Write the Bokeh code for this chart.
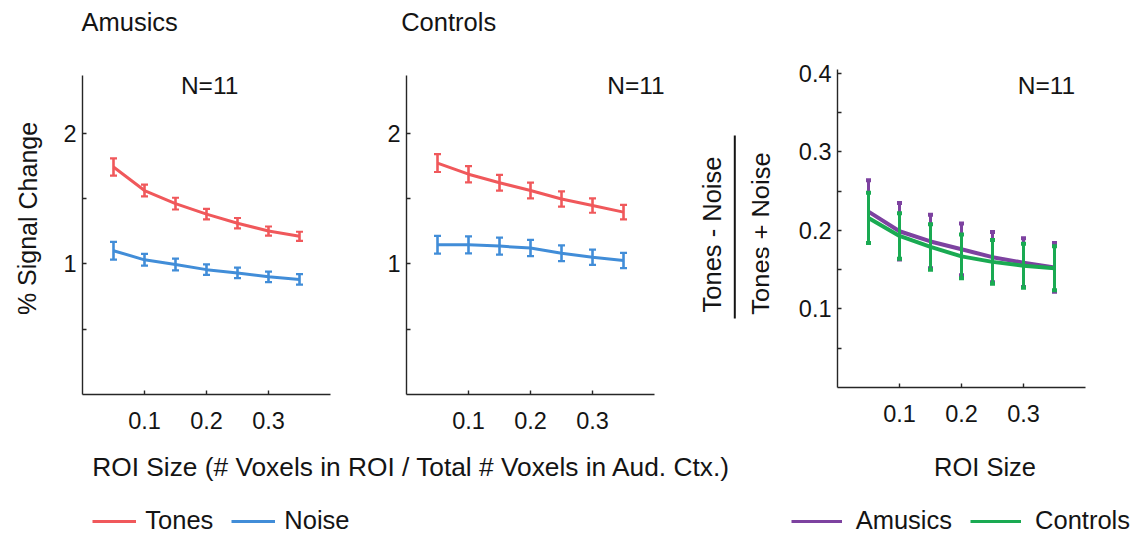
from bokeh.plotting import figure
from bokeh.models import (ColumnDataSource, Range1d, FixedTicker, Label, Legend,
                          LegendItem, Arrow)
from bokeh.layouts import row, column
from bokeh.embed import file_html
from bokeh.resources import INLINE

# ---------------- data ----------------
roi_size = [0.05, 0.10, 0.15, 0.20, 0.25, 0.30, 0.35]
x_ticks = [0.1, 0.2, 0.3]

amusics_tones = [1.74, 1.56, 1.46, 1.38, 1.31, 1.25, 1.21]
amusics_tones_err = [0.066, 0.045, 0.045, 0.04, 0.04, 0.035, 0.035]
amusics_noise = [1.10, 1.03, 0.995, 0.955, 0.93, 0.90, 0.88]
amusics_noise_err = [0.068, 0.045, 0.045, 0.04, 0.04, 0.04, 0.04]

controls_tones = [1.77, 1.685, 1.62, 1.56, 1.495, 1.445, 1.395]
controls_tones_err = [0.068, 0.062, 0.06, 0.06, 0.058, 0.055, 0.055]
controls_noise = [1.145, 1.145, 1.135, 1.12, 1.08, 1.05, 1.025]
controls_noise_err = [0.068, 0.065, 0.065, 0.062, 0.06, 0.058, 0.058]

ratio_amusics = [0.224, 0.199, 0.186, 0.176, 0.166, 0.159, 0.153]
ratio_amusics_err = [0.040, 0.036, 0.034, 0.033, 0.032, 0.031, 0.031]
ratio_controls = [0.216, 0.193, 0.179, 0.167, 0.160, 0.155, 0.152]
ratio_controls_err = [0.032, 0.029, 0.029, 0.028, 0.028, 0.028, 0.028]

signal_ticks = [1, 2]
signal_minor = [0.5, 1.5]
ratio_ticks = [0.1, 0.2, 0.3, 0.4]
ratio_minor = [0.05, 0.15, 0.25, 0.35]

# ---------------- style ----------------
FONT = "Liberation Sans"
AX = "#262626"
TXT = "#141414"
RED = "#F0585B"
BLUE = "#418DD8"
PURPLE = "#7D42A0"
GREEN = "#1AAA52"

ROW_H = 390
TOP_B = 25
BOT_B = 46


def clean(p):
    p.xgrid.visible = False
    p.ygrid.visible = False
    p.outline_line_color = None
    p.background_fill_color = "white"
    p.border_fill_color = "white"


def style_axes(p, yticks, yminor):
    p.xaxis.ticker = FixedTicker(ticks=x_ticks, minor_ticks=[])
    p.yaxis.ticker = FixedTicker(ticks=yticks, minor_ticks=yminor)
    for ax in (p.xaxis[0], p.yaxis[0]):
        ax.axis_line_color = AX
        ax.axis_line_width = 1.4
        ax.major_tick_line_color = AX
        ax.major_tick_line_width = 1.4
        ax.minor_tick_line_color = AX
        ax.minor_tick_line_width = 1.4
        ax.major_tick_in = 4
        ax.major_tick_out = 0
        ax.minor_tick_in = 4
        ax.minor_tick_out = 0
        ax.major_label_text_font = FONT
        ax.major_label_text_font_size = "23.5px"
        ax.major_label_text_color = TXT
    p.xaxis.major_label_standoff = 17
    p.yaxis.major_label_standoff = 6
    clean(p)


def add_label(p, x, y, text, size="25.5px", align="center", angle=0.0):
    p.add_layout(Label(x=x, y=y, text=text, text_font=FONT, text_font_size=size,
                       text_align=align, text_baseline="middle", angle=angle,
                       text_color=TXT))


def series(p, y, err, color, lw, elw, cap, capw):
    src = ColumnDataSource(dict(
        x=roi_size, y=y,
        lo=[v - e for v, e in zip(y, err)],
        hi=[v + e for v, e in zip(y, err)]))
    p.line("x", "y", source=src, line_color=color, line_width=lw)
    p.segment("x", "lo", "x", "hi", source=src, line_color=color, line_width=elw)
    p.scatter("x", "lo", source=src, marker="dash", size=cap, line_color=color,
              line_width=capw)
    p.scatter("x", "hi", source=src, marker="dash", size=cap, line_color=color,
              line_width=capw)


def make_signal_panel(width, bl, br, xmax, tones, tones_err, noise, noise_err):
    p = figure(width=width, height=ROW_H, x_range=Range1d(0, xmax),
               y_range=Range1d(0, 2.44), min_border_left=bl, min_border_right=br,
               min_border_top=TOP_B, min_border_bottom=BOT_B,
               toolbar_location=None, output_backend="svg")
    style_axes(p, signal_ticks, signal_minor)
    p.xaxis.bounds = (0, 0.4)
    series(p, tones, tones_err, RED, 3, 2.6, 7, 2.2)
    series(p, noise, noise_err, BLUE, 3, 2.6, 7, 2.2)
    return p


def text_panel(width, height, x0, x1, ytop, ybot, top_b=0, bot_b=0):
    p = figure(width=width, height=height, x_range=Range1d(x0, x1),
               y_range=Range1d(ybot, ytop), min_border_left=0, min_border_right=0,
               min_border_top=top_b, min_border_bottom=bot_b,
               x_axis_location=None, y_axis_location=None,
               toolbar_location=None, output_backend="svg")
    clean(p)
    return p


# ---------------- top strip: group titles ----------------
fa = text_panel(1136, 50, 0, 1136, 0, 50)
add_label(fa, 81, 21, "Amusics", align="left")
add_label(fa, 400.7, 21, "Controls", align="left")

# ---------------- y label strip ----------------
fL = text_panel(46, ROW_H, 0, 46, 75, 394, TOP_B, BOT_B)
add_label(fL, 27, 218, "% Signal Change", size="25px", angle=1.5707963)

# ---------------- panel 1: Amusics ----------------
f1 = make_signal_panel(324, 36, 40, 0.4, amusics_tones, amusics_tones_err,
                       amusics_noise, amusics_noise_err)
add_label(f1, 0.205, 2.363, "N=11", size="24.5px")

# ---------------- panel 2: Controls ----------------
f2 = make_signal_panel(322, 36, 12, 0.4419, controls_tones, controls_tones_err,
                       controls_noise, controls_noise_err)
add_label(f2, 0.370, 2.363, "N=11", size="24.5px")

# ---------------- fraction y label strip ----------------
fR = text_panel(98, ROW_H, 692, 790, 75, 394, TOP_B, BOT_B)
add_label(fR, 711.7, 234, "Tones - Noise", angle=1.5707963)
add_label(fR, 760, 233, "Tones + Noise", angle=1.5707963)
fR.add_layout(Arrow(start=None, end=None, x_start=734.3, y_start=135,
                    x_end=734.3, y_end=318, line_color=TXT, line_width=2))

# ---------------- panel 3: ratio ----------------
f3 = figure(width=346, height=ROW_H, x_range=Range1d(0, 0.4),
            y_range=Range1d(0, 0.405), min_border_left=47, min_border_right=51,
            min_border_top=19, min_border_bottom=53, toolbar_location=None,
            output_backend="svg")
style_axes(f3, ratio_ticks, ratio_minor)
series(f3, ratio_amusics, ratio_amusics_err, PURPLE, 4, 3, 5, 4)
series(f3, ratio_controls, ratio_controls_err, GREEN, 4, 3, 5, 4)
add_label(f3, 0.337, 0.3846, "N=11", size="24.5px")

# ---------------- bottom strip: axis titles + legends ----------------
fb = text_panel(1136, 93, 0, 1136, 0, 93)
add_label(fb, 91.7, 26.7, "ROI Size (# Voxels in ROI / Total # Voxels in Aud. Ctx.)",
          size="26.3px", align="left")
add_label(fb, 984.5, 26.0, "ROI Size")

# legend proxies: the real series, drawn against off-screen ranges
fb.extra_x_ranges = {"proxy": Range1d(10, 11)}
fb.extra_y_ranges = {"proxy": Range1d(10, 11)}


def proxy(y, color):
    return fb.line(x=roi_size, y=y, x_range_name="proxy", y_range_name="proxy",
                   line_color=color, line_width=3)


rt = proxy(amusics_tones, RED)
rn = proxy(amusics_noise, BLUE)
ra = proxy(ratio_amusics, PURPLE)
rc = proxy(ratio_controls, GREEN)


def make_legend(items, loc, gw, standoff):
    return Legend(items=items, location=loc, orientation="horizontal",
                  glyph_width=gw, glyph_height=20, label_standoff=standoff,
                  spacing=18, padding=0, margin=0, border_line_color=None,
                  background_fill_alpha=0, label_text_font=FONT,
                  label_text_font_size="25.5px", label_text_color=TXT)


fb.add_layout(make_legend([LegendItem(label="Tones", renderers=[rt]),
                           LegendItem(label="Noise", renderers=[rn])],
                          (92.3, -2), 44, 9))
fb.add_layout(make_legend([LegendItem(label="Amusics", renderers=[ra]),
                           LegendItem(label="Controls", renderers=[rc])],
                          (790.7, -2), 51, 14))

layout = column(fa, row(fL, f1, f2, fR, column(f3)), fb)
open("out.html", "w").write(file_html(layout, INLINE))
